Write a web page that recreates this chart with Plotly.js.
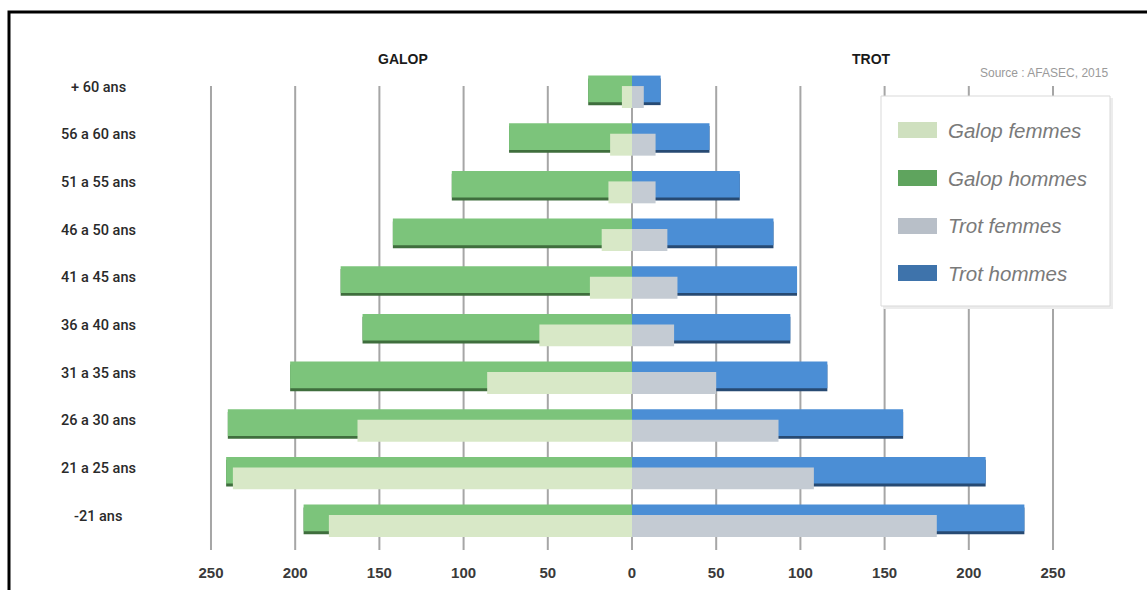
<!DOCTYPE html>
<html>
<head>
<meta charset="utf-8">
<script src="https://cdn.plot.ly/plotly-3.0.1.min.js"></script>
<style>
  html, body { margin: 0; padding: 0; background: #ffffff; }
  #chart { width: 1147px; height: 590px; }
</style>
</head>
<body>
<div id="chart"></div>
<script>
// ---- Data ----
const ageGroups = ['+ 60 ans', '56 a 60 ans', '51 a 55 ans', '46 a 50 ans', '41 a 45 ans',
                   '36 a 40 ans', '31 a 35 ans', '26 a 30 ans', '21 a 25 ans', '-21 ans'];
const galopFemmes = [6, 13, 14, 18, 25, 55, 86, 163, 237, 180];
const galopHommes = [26, 73, 107, 142, 173, 160, 203, 240, 241, 195];
const trotFemmes  = [7, 14, 14, 21, 27, 25, 50, 87, 108, 181];
const trotHommes  = [17, 46, 64, 84, 98, 94, 116, 161, 210, 233];
const seriesNames = ['Galop femmes', 'Galop hommes', 'Trot femmes', 'Trot hommes'];
const sideTitles = ['GALOP', 'TROT'];
const sourceText = 'Source : AFASEC, 2015';
const tickValues = [-250, -200, -150, -100, -50, 0, 50, 100, 150, 200, 250];
const tickLabels = tickValues.map(v => String(Math.abs(v)));

// ---- Layout geometry ----
const W = 1147, H = 590;
const M = { l: 180, r: 63, t: 70, b: 40 };
const PW = W - M.l - M.r, PH = H - M.t - M.b;
const px = x => (x - M.l) / PW;          // pixel -> paper x
const py = y => (H - M.b - y) / PH;      // pixel -> paper y

const colors = {
  galopFemmes: '#d8e8c7', galopHommes: '#7cc47b',
  trotFemmes: '#c4cbd3', trotHommes: '#4b8ed5',
  galopShadow: '#3f6e3d', trotShadow: '#274a73'
};
const swatchColors = ['#cfe0bf', '#5fa45e', '#b8bfc8', '#3e73ab'];

const neg = arr => arr.map(v => -v);
const hommesW = 0.56, hommesOff = -0.32;
const femmesW = 0.46, femmesOff = -0.44;

function bar(name, xs, raw, color, width, offset, show) {
  return {
    type: 'bar', orientation: 'h', name: name,
    y: ageGroups, x: xs, customdata: raw,
    width: width, offset: offset,
    marker: { color: color, line: { width: 0 } },
    showlegend: false,
    hovertemplate: '%{y}: %{customdata}<extra>' + name + '</extra>',
    hoverinfo: show ? undefined : 'skip'
  };
}

const traces = [
  bar('Galop hommes (ombre)', neg(galopHommes), galopHommes, colors.galopShadow, hommesW, hommesOff - 0.06, false),
  bar('Trot hommes (ombre)', trotHommes, trotHommes, colors.trotShadow, hommesW, hommesOff - 0.06, false),
  bar(seriesNames[1], neg(galopHommes), galopHommes, colors.galopHommes, hommesW, hommesOff, true),
  bar(seriesNames[3], trotHommes, trotHommes, colors.trotHommes, hommesW, hommesOff, true),
  bar(seriesNames[0], neg(galopFemmes), galopFemmes, colors.galopFemmes, femmesW, femmesOff, true),
  bar(seriesNames[2], trotFemmes, trotFemmes, colors.trotFemmes, femmesW, femmesOff, true)
];

const shapes = [];
// vertical gridlines at tick values
tickValues.forEach(v => {
  shapes.push({ type: 'line', layer: 'below', xref: 'x', yref: 'paper',
    x0: v, x1: v, y0: 0, y1: py(86), line: { color: '#a6a6a6', width: 2 } });
});
// legend box shadow + box
shapes.push({ type: 'rect', layer: 'above', xref: 'paper', yref: 'paper',
  x0: px(883), x1: px(1113), y0: py(309), y1: py(98),
  fillcolor: '#ececec', line: { width: 0 } });
shapes.push({ type: 'rect', layer: 'above', xref: 'paper', yref: 'paper',
  x0: px(881), x1: px(1110), y0: py(306), y1: py(96),
  fillcolor: '#ffffff', line: { color: '#d9d9d9', width: 1 } });
// legend swatches
const legendRowsY = [130, 178, 226, 273];
seriesNames.forEach((n, i) => {
  shapes.push({ type: 'rect', layer: 'above', xref: 'paper', yref: 'paper',
    x0: px(898), x1: px(937), y0: py(legendRowsY[i] + 8), y1: py(legendRowsY[i] - 8),
    fillcolor: swatchColors[i], line: { width: 0 } });
});
// outer frame
shapes.push({ type: 'rect', layer: 'above', xref: 'paper', yref: 'paper',
  x0: px(9), x1: px(1170), y0: py(620), y1: py(12),
  fillcolor: 'rgba(0,0,0,0)', line: { color: '#000000', width: 3 } });

const annotations = [];
// category labels (centered, like the reference)
ageGroups.forEach(g => {
  annotations.push({ xref: 'paper', yref: 'y', x: px(98), y: g, text: g,
    showarrow: false, xanchor: 'center', yanchor: 'middle',
    font: { family: 'Roboto, Liberation Sans, Arial, sans-serif', size: 14.5, color: '#2a2a2a', weight: 500 } });
});
// side titles
annotations.push({ xref: 'paper', yref: 'paper', x: px(403), y: py(59), text: sideTitles[0],
  showarrow: false, xanchor: 'center', yanchor: 'middle',
  font: { family: 'Liberation Sans, Arial, sans-serif', size: 14, color: '#1a1a1a', weight: 'bold' } });
annotations.push({ xref: 'paper', yref: 'paper', x: px(871), y: py(59), text: sideTitles[1],
  showarrow: false, xanchor: 'center', yanchor: 'middle',
  font: { family: 'Liberation Sans, Arial, sans-serif', size: 14, color: '#1a1a1a', weight: 'bold' } });
// source
annotations.push({ xref: 'paper', yref: 'paper', x: px(1110), y: py(73), text: sourceText,
  showarrow: false, xanchor: 'right', yanchor: 'middle',
  font: { family: 'Liberation Sans, Arial, sans-serif', size: 12, color: '#9a9a9a' } });
// legend labels
seriesNames.forEach((n, i) => {
  annotations.push({ xref: 'paper', yref: 'paper', x: px(946), y: py(legendRowsY[i]), text: n,
    showarrow: false, xanchor: 'left', yanchor: 'middle',
    font: { family: 'Liberation Sans, Arial, sans-serif', size: 20.5, color: '#7a7a7a', style: 'italic' } });
});

const layout = {
  width: W, height: H,
  margin: M,
  paper_bgcolor: '#ffffff', plot_bgcolor: '#ffffff',
  barmode: 'overlay',
  showlegend: false,
  xaxis: {
    range: [-268.4, 268.4], tickmode: 'array', tickvals: tickValues, ticktext: tickLabels,
    showgrid: false, zeroline: false, showline: false, ticks: '',
    ticklabelstandoff: 12,
    tickfont: { family: 'Liberation Sans, Arial, sans-serif', size: 15, color: '#3a3a3a', weight: 'bold' },
    fixedrange: true
  },
  yaxis: {
    type: 'category', categoryorder: 'array', categoryarray: ageGroups.slice().reverse(),
    range: [-0.713, 9.357], showgrid: false, zeroline: false, showline: false,
    showticklabels: false, ticks: '', fixedrange: true
  },
  shapes: shapes,
  annotations: annotations
};

Plotly.newPlot('chart', traces, layout, { displayModeBar: false, staticPlot: false });
</script>
</body>
</html>
